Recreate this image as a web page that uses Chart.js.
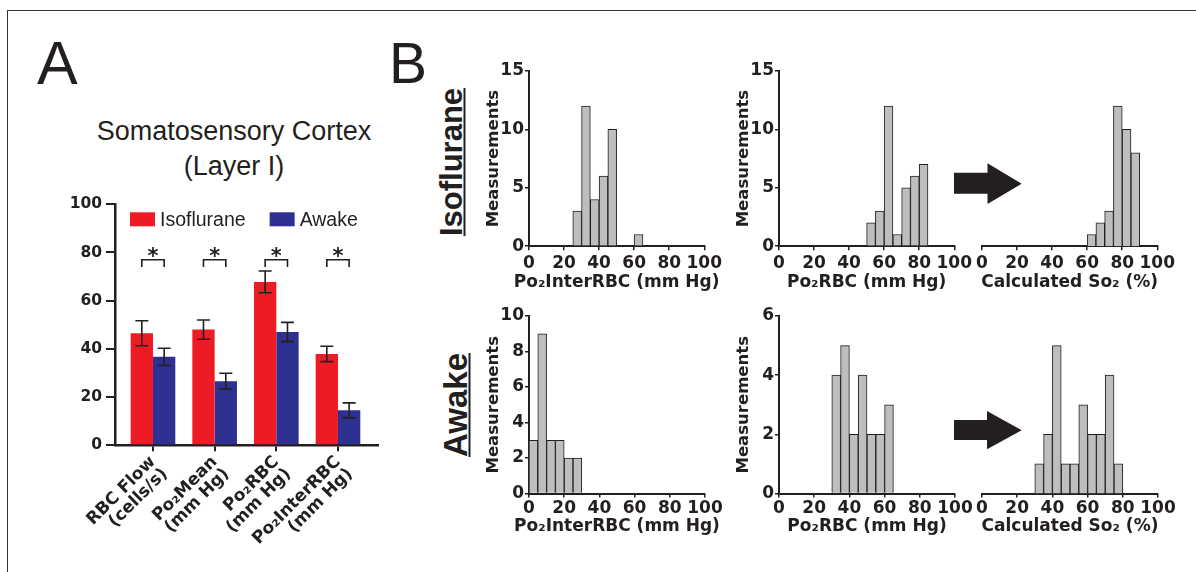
<!DOCTYPE html>
<html>
<head>
<meta charset="utf-8">
<script src="https://cdn.jsdelivr.net/npm/chart.js@4.4.0/dist/chart.umd.min.js"></script>
<style>
  html, body { margin: 0; padding: 0; background: #fff; }
  body { width: 1196px; height: 572px; position: relative; overflow: hidden; font-family: 'Liberation Sans', Arial, sans-serif; color: #231f20; }
  canvas { position: absolute; }
  .frame { position: absolute; left: 7px; top: 10px; width: 1400px; height: 800px; border-top: 1.3px solid #333; border-left: 1.3px solid #333; }
  .letter { position: absolute; line-height: 1; font-weight: normal; }
  .title { position: absolute; font-size: 27px; line-height: 35px; text-align: center; white-space: nowrap; transform: translateX(-50%); }
  .cond { position: absolute; font-weight: bold; line-height: 1; white-space: nowrap; text-decoration: underline; text-decoration-thickness: 2px; text-underline-offset: 2px; transform: translate(-50%, -50%) rotate(-90deg); }
  .arrow { position: absolute; background: #231f20; }
</style>
</head>
<body>
<div class="frame"></div>
<div class="letter" style="left:37px; top:33px; font-size:61px;">A</div>
<div class="letter" style="left:389px; top:34.6px; font-size:57px;">B</div>
<div class="title" style="left:234px; top:114px;">Somatosensory Cortex<br>(Layer I)</div>
<div class="cond" style="left:451px; top:161.7px; font-size:31px;">Isoflurane</div>
<div class="cond" style="left:454.6px; top:405px; font-size:33px;">Awake</div>

<canvas id="barA" width="370" height="382" style="left:30px; top:190px;"></canvas>
<canvas id="isoInter" width="245" height="236" style="left:480.3px; top:57px;"></canvas>
<canvas id="isoRbc" width="245" height="236" style="left:730.3px; top:57px;"></canvas>
<canvas id="isoSo2" width="206" height="236" style="left:972.3px; top:57px;"></canvas>
<canvas id="awakeInter" width="245" height="235" style="left:480.3px; top:301.7px;"></canvas>
<canvas id="awakeRbc" width="245" height="235" style="left:730.3px; top:301.7px;"></canvas>
<canvas id="awakeSo2" width="206" height="235" style="left:972.3px; top:301.7px;"></canvas>

<div class="arrow" style="left:954px; top:163.3px; width:67.7px; height:40.7px; clip-path: polygon(0 9.4px, 33.5px 9.4px, 33.5px 0, 100% 50%, 33.5px 100%, 33.5px 30.4px, 0 30.4px);"></div>
<div class="arrow" style="left:954px; top:411px; width:67.7px; height:38.3px; clip-path: polygon(0 9px, 33px 9px, 33px 0, 100% 50%, 33px 100%, 33px 29px, 0 29px);"></div>

<script>
// Panel A: somatosensory cortex, layer I
const categories = [['RBC Flow', '(cells/s)'], ['Po₂Mean', '(mm Hg)'], ['Po₂RBC', '(mm Hg)'], ['Po₂InterRBC', '(mm Hg)']];
const isoMeans = [46.5, 48, 67.8, 37.9];
const isoErrors = [5.2, 4, 4.5, 3.2];
const awakeMeans = [36.7, 26.6, 47, 14.5];
const awakeErrors = [3.6, 3.3, 4, 3.1];

// Panel B: histograms (lower bin edge, 5-unit bins) and counts
const isoInterBins = [25, 30, 35, 40, 45, 60];
const isoInterCounts = [3, 12, 4, 6, 10, 1];
const isoRbcBins = [50, 55, 60, 65, 70, 75, 80];
const isoRbcCounts = [2, 3, 12, 1, 5, 6, 7];
const isoSo2Bins = [60, 65, 70, 75, 80, 85];
const isoSo2Counts = [1, 2, 3, 12, 10, 8];
const awakeInterBins = [0, 5, 10, 15, 20, 25];
const awakeInterCounts = [3, 9, 3, 3, 2, 2];
const awakeRbcBins = [30, 35, 40, 45, 50, 55, 60];
const awakeRbcCounts = [4, 5, 2, 4, 2, 2, 3];
const awakeSo2Bins = [30, 35, 40, 45, 50, 55, 60, 65, 70, 75];
const awakeSo2Counts = [1, 2, 5, 1, 1, 3, 2, 2, 4, 1];

const ink = '#231f20';
Chart.defaults.font.family = "'DejaVu Sans', sans-serif";
Chart.defaults.color = ink;
Chart.defaults.animation = false;

// error bars on top of each bar
const errorBars = {
    id: 'errorBars',
    afterDatasetsDraw(chart) {
        const ctx = chart.ctx;
        const y = chart.scales.y;
        ctx.save();
        ctx.strokeStyle = ink;
        ctx.lineWidth = 1.6;
        chart.data.datasets.forEach((ds, di) => {
            chart.getDatasetMeta(di).data.forEach((bar, i) => {
                const v = ds.data[i].y, e = ds.errors[i];
                const top = y.getPixelForValue(v + e), bot = y.getPixelForValue(v - e);
                ctx.beginPath();
                ctx.moveTo(bar.x, top); ctx.lineTo(bar.x, bot);
                ctx.moveTo(bar.x - 6.5, top); ctx.lineTo(bar.x + 6.5, top);
                ctx.moveTo(bar.x - 6.5, bot); ctx.lineTo(bar.x + 6.5, bot);
                ctx.stroke();
            });
        });
        ctx.restore();
    }
};

// significance brackets with stars
const sigMarks = {
    id: 'sigMarks',
    afterDatasetsDraw(chart) {
        const ctx = chart.ctx;
        const y = chart.scales.y;
        const a = chart.getDatasetMeta(0).data, b = chart.getDatasetMeta(1).data;
        const top = y.getPixelForValue(77), leg = y.getPixelForValue(74);
        ctx.save();
        ctx.strokeStyle = ink;
        ctx.fillStyle = ink;
        ctx.lineWidth = 1.6;
        ctx.font = "bold 21px 'DejaVu Sans'";
        ctx.textAlign = 'center';
        ctx.textBaseline = 'alphabetic';
        a.forEach((bar, i) => {
            ctx.beginPath();
            ctx.moveTo(bar.x, leg); ctx.lineTo(bar.x, top);
            ctx.lineTo(b[i].x, top); ctx.lineTo(b[i].x, leg);
            ctx.stroke();
            ctx.fillText('*', (bar.x + b[i].x) / 2, top + 3.4);
        });
        ctx.restore();
    }
};

// legend drawn inside the plot
const innerLegend = {
    id: 'innerLegend',
    afterDraw(chart) {
        const ctx = chart.ctx;
        let x = chart.chartArea.left + 15;
        const yc = chart.chartArea.top + 15;
        ctx.save();
        ctx.font = "19.5px 'Liberation Sans'";
        ctx.textBaseline = 'middle';
        chart.data.datasets.forEach(ds => {
            ctx.fillStyle = ds.backgroundColor;
            ctx.fillRect(x, yc - 7, 25, 14);
            ctx.fillStyle = ink;
            ctx.fillText(ds.label, x + 30, yc + 1);
            x += 30 + ctx.measureText(ds.label).width + 24;
        });
        ctx.restore();
    }
};

new Chart(document.getElementById('barA'), {
    type: 'bar',
    data: {
        datasets: [
            { label: 'Isoflurane', data: isoMeans.map((v, i) => ({ x: i, y: v })), errors: isoErrors, backgroundColor: '#ed1c24' },
            { label: 'Awake', data: awakeMeans.map((v, i) => ({ x: i, y: v })), errors: awakeErrors, backgroundColor: '#2e3192' }
        ]
    },
    options: {
        responsive: false,
        devicePixelRatio: 1,
        categoryPercentage: 0.724,
        barPercentage: 1,
        layout: { padding: { top: 14.3, right: 22, bottom: 0, left: 0 } },
        plugins: { legend: { display: false }, tooltip: { enabled: false } },
        scales: {
            x: {
                type: 'linear', min: -0.616, max: 3.649, offset: false,
                afterBuildTicks: s => { s.ticks = categories.map((c, i) => ({ value: i })); },
                afterFit: s => { s.height = 126.7; },
                ticks: { callback: v => categories[v], minRotation: 45, maxRotation: 45, autoSkip: false, padding: 2,
                         font: { size: 17, weight: 'bold', lineHeight: 1.0 } },
                grid: { offset: false, drawOnChartArea: false, tickLength: 6, color: ink, lineWidth: 2 },
                border: { color: ink, width: 2.5 }
            },
            y: {
                min: 0, max: 100,
                afterFit: s => { s.width = 85; },
                ticks: { stepSize: 20, padding: 4, font: { size: 15.5, weight: 'bold' } },
                grid: { drawOnChartArea: false, tickLength: 9, color: ink, lineWidth: 2 },
                border: { color: ink, width: 2.5 }
            }
        }
    },
    plugins: [errorBars, sigMarks, innerLegend]
});

function histogram(id, bins, counts, yMax, yStep, xTitle, showY, tickPad, xHeight) {
    // x axis title drawn centred under the axis at full width
    const xTitlePlugin = {
        id: 'xTitle',
        afterDraw(chart) {
            const s = chart.scales.x, ctx = chart.ctx;
            ctx.save();
            ctx.font = "bold 17px 'DejaVu Sans'";
            ctx.fillStyle = ink;
            ctx.textAlign = 'center';
            ctx.textBaseline = 'middle';
            ctx.fillText(xTitle, (s.left + s.right) / 2, s.bottom - 10.5);
            ctx.restore();
        }
    };
    new Chart(document.getElementById(id), {
        type: 'bar',
        data: {
            datasets: [{
                data: bins.map((b, i) => ({ x: b + 2.5, y: counts[i] })),
                backgroundColor: '#bcbec0', borderColor: ink, borderWidth: 1,
                barPercentage: 1, categoryPercentage: 1
            }]
        },
        options: {
            responsive: false,
            devicePixelRatio: 1,
            layout: { padding: { top: 14, right: 20, bottom: 0, left: showY ? 0 : 10 } },
            plugins: { legend: { display: false }, tooltip: { enabled: false } },
            scales: {
                x: {
                    type: 'linear', min: 0, max: 100, offset: false,
                    afterFit: s => { s.height = xHeight; },
                    ticks: { stepSize: 20, autoSkip: false, maxRotation: 0, padding: tickPad, font: { size: 17, weight: 'bold' } },
                    grid: { offset: false, drawOnChartArea: false, tickLength: 4, color: ink, lineWidth: 1.5 },
                    border: { color: ink, width: 2 }
                },
                y: {
                    display: showY, min: 0, max: yMax,
                    afterFit: s => { if (showY) s.width = 49; },
                    ticks: { stepSize: yStep, padding: 1, font: { size: 17, weight: 'bold' } },
                    grid: { drawOnChartArea: false, tickLength: 4, color: ink, lineWidth: 1.5 },
                    border: { color: ink, width: 2 },
                    title: { display: true, text: 'Measurements', padding: { top: 4, bottom: 0 }, font: { size: 16.5, weight: 'bold' } }
                }
            }
        },
        plugins: [xTitlePlugin]
    });
}

histogram('isoInter', isoInterBins, isoInterCounts, 15, 5, 'Po₂InterRBC (mm Hg)', true, 3, 46.8);
histogram('isoRbc', isoRbcBins, isoRbcCounts, 15, 5, 'Po₂RBC (mm Hg)', true, 3, 46.8);
histogram('isoSo2', isoSo2Bins, isoSo2Counts, 15, 5, 'Calculated So₂ (%)', false, 3, 46.8);
histogram('awakeInter', awakeInterBins, awakeInterCounts, 10, 2, 'Po₂InterRBC (mm Hg)', true, 1, 43.5);
histogram('awakeRbc', awakeRbcBins, awakeRbcCounts, 6, 2, 'Po₂RBC (mm Hg)', true, 1, 43.5);
histogram('awakeSo2', awakeSo2Bins, awakeSo2Counts, 6, 2, 'Calculated So₂ (%)', false, 1, 43.5);
</script>
</body>
</html>
